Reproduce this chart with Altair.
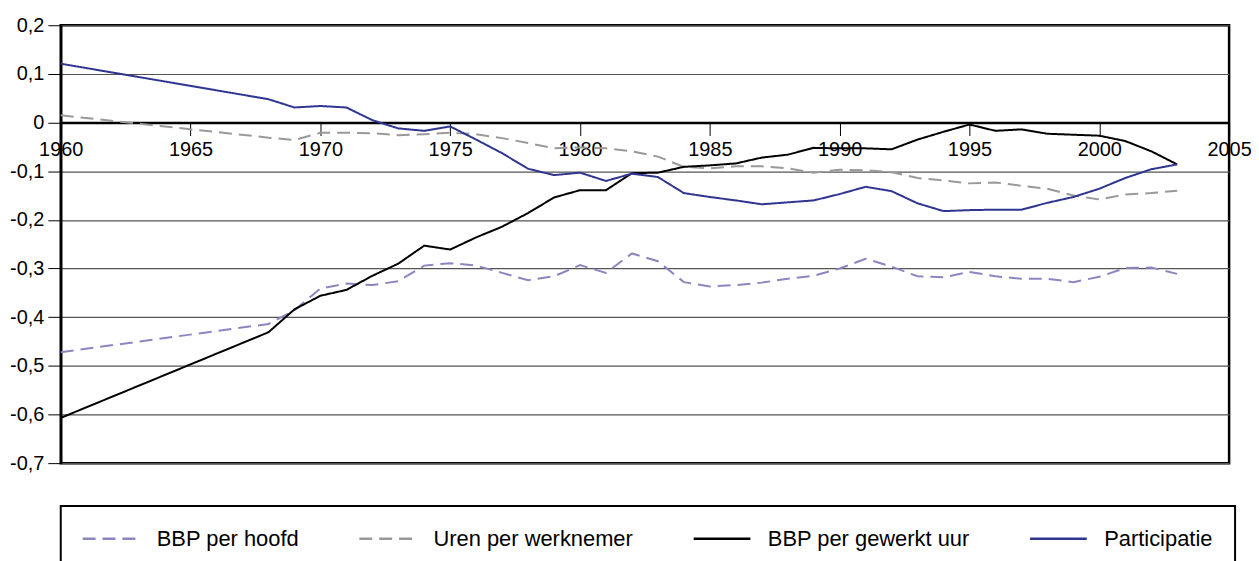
import altair as alt
import pandas as pd

years = [1960] + list(range(1968, 2004))

series_names = ["BBP per hoofd", "Uren per werknemer", "BBP per gewerkt uur", "Participatie"]

bbp_per_hoofd = [-0.472, -0.414, -0.386, -0.341, -0.331, -0.334, -0.326, -0.294, -0.289, -0.294,
                 -0.309, -0.324, -0.316, -0.293, -0.309, -0.269, -0.285, -0.328, -0.337, -0.334,
                 -0.329, -0.321, -0.315, -0.300, -0.280, -0.296, -0.316, -0.318, -0.307, -0.316,
                 -0.321, -0.321, -0.328, -0.317, -0.299, -0.298, -0.311]
uren_per_werknemer = [0.015, -0.031, -0.036, -0.021, -0.021, -0.022, -0.026, -0.024, -0.021, -0.024,
                      -0.032, -0.042, -0.053, -0.051, -0.053, -0.059, -0.070, -0.091, -0.094, -0.090,
                      -0.090, -0.094, -0.103, -0.097, -0.098, -0.102, -0.114, -0.119, -0.125, -0.123,
                      -0.130, -0.136, -0.150, -0.158, -0.148, -0.145, -0.140]
bbp_per_gewerkt_uur = [-0.607, -0.431, -0.384, -0.356, -0.344, -0.315, -0.290, -0.253, -0.261, -0.236,
                       -0.214, -0.186, -0.154, -0.139, -0.139, -0.104, -0.103, -0.091, -0.088, -0.084,
                       -0.072, -0.066, -0.052, -0.053, -0.053, -0.055, -0.035, -0.019, -0.004, -0.017,
                       -0.014, -0.023, -0.025, -0.027, -0.038, -0.059, -0.086]
participatie = [0.121, 0.048, 0.031, 0.034, 0.031, 0.005, -0.012, -0.017, -0.008, -0.035,
                -0.063, -0.095, -0.108, -0.103, -0.120, -0.105, -0.112, -0.145, -0.153, -0.160,
                -0.168, -0.164, -0.160, -0.147, -0.132, -0.141, -0.166, -0.182, -0.180, -0.179,
                -0.179, -0.165, -0.153, -0.136, -0.114, -0.096, -0.086]

x_ticks = [1960, 1965, 1970, 1975, 1980, 1985, 1990, 1995, 2000, 2005]
y_ticks = [0.2, 0.1, 0.0, -0.1, -0.2, -0.3, -0.4, -0.5, -0.6, -0.7]

colors = ["#8C86C0", "#999999", "#000000", "#2F3590"]
dashes = [[13, 7], [13, 7], [1, 0], [1, 0]]

rows = []
for name, vals in zip(series_names, [bbp_per_hoofd, uren_per_werknemer, bbp_per_gewerkt_uur, participatie]):
    for yr, v in zip(years, vals):
        rows.append({"jaar": yr, "waarde": v, "reeks": name})
df = pd.DataFrame(rows)

W, H = 1174, 440
zero_y = H * 0.2 / 0.9

FONT = "Liberation Sans"


def make_legend():
    return alt.Legend(title=None, orient="none", legendX=0, legendY=483,
                      direction="horizontal", padding=22,
                      strokeColor="black", fillColor="white",
                      columnPadding=54, labelFontSize=22, labelFont=FONT,
                      labelColor="black", labelOffset=52.5,
                      symbolType="M-1.93,0H8.07", symbolSize=130,
                      symbolStrokeWidth=2.5, labelLimit=400)


chart = alt.Chart(df).mark_line(strokeWidth=2).encode(
    x=alt.X("jaar:Q",
            scale=alt.Scale(domain=[1960, 2005], nice=False, zero=False),
            axis=alt.Axis(values=x_ticks, format="d", title=None, grid=False,
                          offset=-(H - zero_y), domainColor="black", domainWidth=2.5,
                          tickColor="black", tickSize=13, tickWidth=1, labelPadding=4,
                          labelFontSize=20, labelFont=FONT, labelColor="black",
                          labelFlush=False, labelOverlap=False)),
    y=alt.Y("waarde:Q",
            scale=alt.Scale(domain=[-0.7, 0.2], nice=False, zero=False),
            axis=alt.Axis(values=y_ticks, title=None, grid=True, gridColor="#555555",
                          gridWidth=1.2, domainColor="black", domainWidth=2.5,
                          tickColor="black", tickSize=13, tickWidth=1, labelPadding=4,
                          labelFontSize=20, labelFont=FONT, labelColor="black",
                          labelFlush=False, labelOverlap=False,
                          labelExpr="abs(datum.value) < 0.001 ? '0' : (datum.value < 0 ? '-' : '') + replace(format(abs(datum.value), '.1f'), '.', ',')")),
    color=alt.Color("reeks:N",
                    scale=alt.Scale(domain=series_names, range=colors),
                    legend=make_legend()),
    strokeDash=alt.StrokeDash("reeks:N",
                              scale=alt.Scale(domain=series_names, range=dashes),
                              legend=make_legend()),
    order=alt.Order("jaar:Q"),
).properties(
    width=W, height=H,
    autosize=alt.AutoSizeParams(type="none"),
    padding={"left": 53, "top": 16, "right": 22, "bottom": 97},
).configure_view(
    stroke="black", strokeWidth=2.5
).configure_legend(
    strokeWidth=2
)

chart.save("out.html", embed_options={"renderer": "svg", "actions": False})
